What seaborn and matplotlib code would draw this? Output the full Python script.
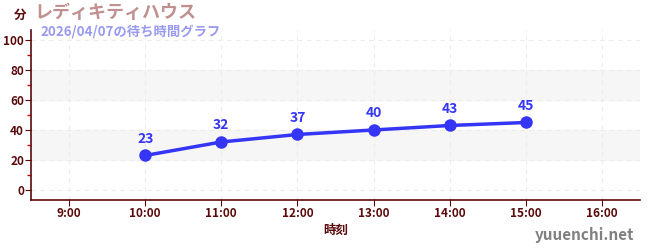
import matplotlib
matplotlib.use("Agg")
import matplotlib.pyplot as plt
import seaborn as sns
import pandas as pd
from matplotlib.ticker import MultipleLocator

hours = [10, 11, 12, 13, 14, 15]
waits = [23, 32, 37, 40, 43, 45]
xtick_hours = [9, 10, 11, 12, 13, 14, 15, 16]
xtick_labels = ["9:00", "10:00", "11:00", "12:00", "13:00", "14:00", "15:00", "16:00"]
ytick_vals = [0, 20, 40, 60, 80, 100]
title = "レディキティハウス"
subtitle = "2026/04/07の待ち時間グラフ"

sns.set_style("white")
plt.rcParams['font.family'] = ['Noto Sans CJK JP', 'DejaVu Sans']

df = pd.DataFrame({"hour": hours, "wait": waits})

fig = plt.figure(figsize=(6.5, 2.5), dpi=100)
ax = fig.add_axes([31/650, 50/250, 609/650, 170/250])

dark = "#5a0a0a"
line_c = "#3535f5"

ax.axhspan(20, 40, color="#f6f6f6", zorder=0)
ax.axhspan(60, 80, color="#f6f6f6", zorder=0)

sns.lineplot(data=df, x="hour", y="wait", ax=ax, color=line_c, linewidth=2.5,
             marker="o", markersize=9, markeredgewidth=0, zorder=3)
for h, w in zip(hours, waits):
    ax.annotate(str(w), (h, w), xytext=(0, 7), textcoords="offset points",
                ha="center", va="bottom", color=line_c, fontsize=10, fontweight="bold")

ax.set_xlim(8.5, 16.5)
ax.set_ylim(-6.7, 106.7)
ax.set_xticks(xtick_hours)
ax.set_xticklabels(xtick_labels)
ax.set_yticks(ytick_vals)
ax.yaxis.set_minor_locator(MultipleLocator(10))
ax.tick_params(axis="y", which="minor", length=3, color="#d00000", width=1, left=True)
ax.tick_params(axis="both", which="major", length=4, color=dark, labelcolor=dark, labelsize=8.5, left=True, bottom=True, pad=1)
for lab in ax.get_xticklabels() + ax.get_yticklabels():
    lab.set_fontweight("bold")

ax.grid(True, which="major", linestyle=(0, (4, 4)), color="#ececec", linewidth=0.8)
ax.set_axisbelow(True)

for s in ["top", "right"]:
    ax.spines[s].set_visible(False)
for s in ["left", "bottom"]:
    ax.spines[s].set_color(dark)
    ax.spines[s].set_linewidth(1.2)

ax.set_xlabel("時刻", color=dark, fontsize=9, fontweight="bold", labelpad=3)
ax.set_ylabel("")

fig.text(20/650, 1 - 15/250, "分", color=dark, fontsize=9, fontweight="bold", ha="center", va="center")
fig.text(34/650, 1 - 13/250, title, color="#c09090", fontsize=13, fontweight="bold", ha="left", va="center")
fig.text(40/650, 1 - 31/250, subtitle, color="#9a9af0", fontsize=9.6, fontweight="bold", ha="left", va="center")
fig.text(634/650, 1 - 235/250, "yuuenchi.net", color="#808080", fontsize=11, fontweight="bold", ha="right", va="center")

fig.savefig("out.png", dpi=100)
